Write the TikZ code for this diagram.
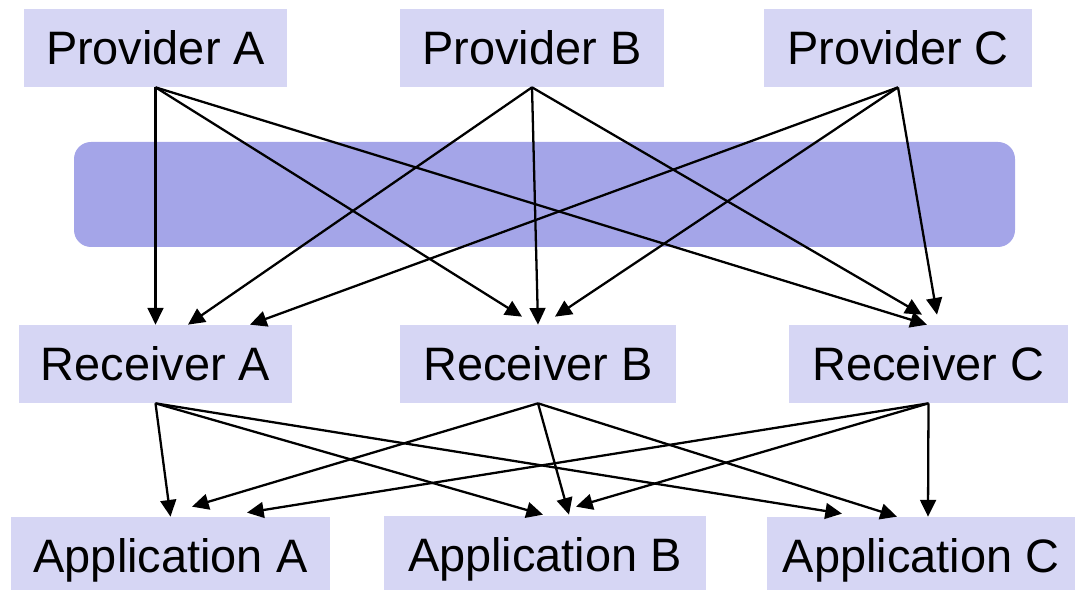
\documentclass[tikz,border=0pt]{standalone}
\usepackage{fontspec}
\setmainfont{Liberation Sans}
\usetikzlibrary{arrows.meta,calc}
\definecolor{boxfill}{RGB}{214,214,244}
\definecolor{busfill}{RGB}{164,165,232}

\begin{document}
\begin{tikzpicture}[x=0.02cm,y=-0.02cm,
    unit/.style={fill=boxfill,inner sep=0pt,minimum height=1.56cm,
                 text height=19.2pt,text depth=0pt,
                 font=\fontsize{26.7}{32}\selectfont},
    link/.style={line width=1.3pt,-{Triangle[length=9.5pt,width=9pt]}}]
  \useasboundingbox (0,0) rectangle (1075,590);
  % shared bus between the two layers
  \fill[busfill,rounded corners=0.34cm] (74,142) rectangle (1015,247);
  % providers
  \node[unit,minimum width=5.26cm] (provA) at (155.5,48) {Provider A};
  \node[unit,minimum width=5.30cm] (provB) at (532,48) {Provider B};
  \node[unit,minimum width=5.36cm] (provC) at (898,48) {Provider C};
  % receivers
  \node[unit,minimum width=5.46cm] (recA) at (155.5,364) {Receiver A};
  \node[unit,minimum width=5.53cm] (recB) at (538,364) {Receiver B};
  \node[unit,minimum width=5.58cm] (recC) at (928.5,364) {Receiver C};
  % applications
  \node[unit,minimum width=6.38cm] (appA) at (170.5,556) {Application A};
  \node[unit,minimum width=6.44cm] (appB) at (545,555) {Application B};
  \node[unit,minimum width=6.16cm] (appC) at (921,556) {Application C};
  % every provider feeds every receiver
  \foreach \src/\dst/\dx/\dy in {provA/recA/0/0, provA/recB/-16/-8, provA/recC/-1.5/0,
                                provB/recA/32.5/0, provB/recB/0/0, provB/recC/-6.5/-10,
                                provC/recA/94.5/0, provC/recB/17/-8, provC/recC/8.5/-10}
    \draw[link] (\src.south) -- ($(\dst.north)+(\dx,\dy)$);
  % every receiver feeds every application
  \foreach \src/\dst/\dx/\dy in {recA/appA/0/0, recA/appB/-2/-1, recA/appC/-79/-3,
                                recB/appA/21.5/-10, recB/appB/24/-1, recB/appC/-24/0,
                                recC/appA/76.5/-4, recC/appB/31/-9, recC/appC/7/0}
    \draw[link] (\src.south) -- ($(\dst.north)+(\dx,\dy)$);
\end{tikzpicture}
\end{document}
